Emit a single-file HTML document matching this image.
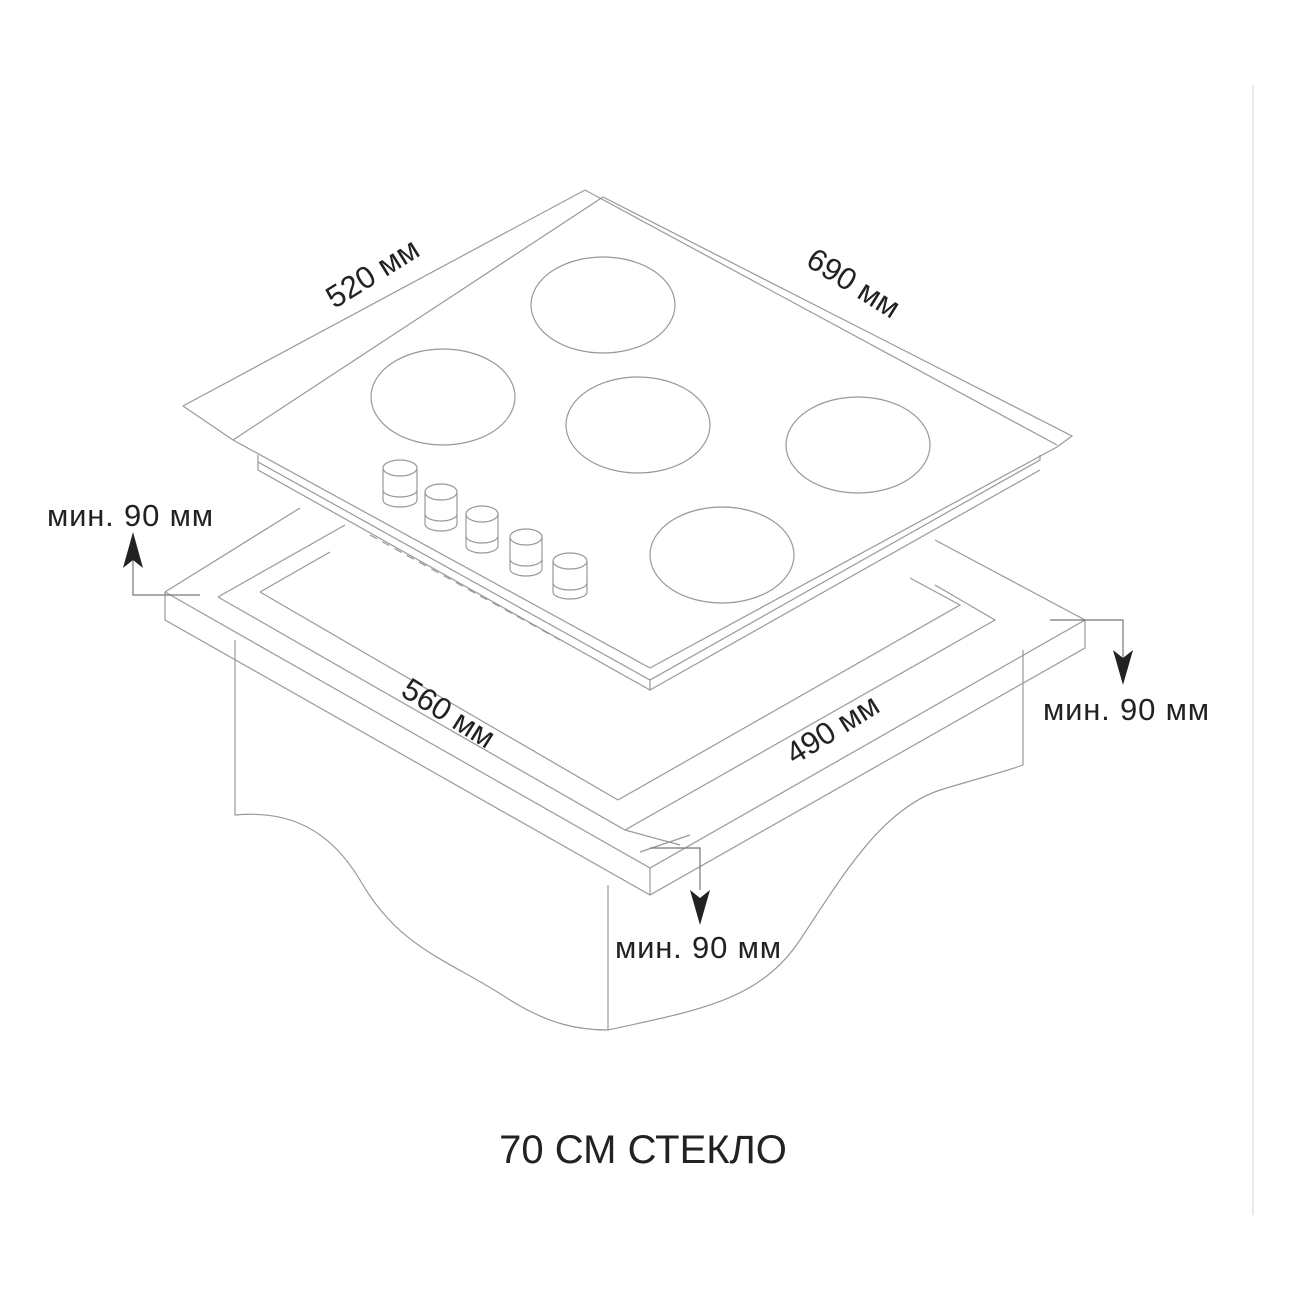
<!DOCTYPE html>
<html><head><style>
html,body{margin:0;padding:0;background:#fff;}
svg{display:block;}
text{font-family:"Liberation Sans",sans-serif;fill:#222;}
</style></head><body>
<svg width="1300" height="1300" viewBox="0 0 1300 1300" xmlns="http://www.w3.org/2000/svg">
<g fill="none" stroke="#999" stroke-width="1.2">
<line x1="1253" y1="85" x2="1253" y2="1215" stroke="#ddd"/>
<path d="M235,640 V815 C290,810 330,830 360,880 C400,950 450,960 510,1000 C550,1025 580,1030 608,1030 C700,1010 760,1000 800,940 C840,880 880,810 940,790 C990,775 1010,770 1023,765 V650"/>
<line x1="608" y1="885" x2="608" y2="1030"/>
<path d="M165,592 L650,868 L1085,620 L935,540"/>
<path d="M165,592 L300,508"/>
<path d="M165,592 V620 L650,895 L1085,648 V620"/>
<line x1="650" y1="868" x2="650" y2="895"/>
<path d="M218,597 L625,830 L995,620 L935,585"/>
<path d="M218,597 L345,525"/>
<path d="M260,592 L330,552"/>
<path d="M260,592 L618,800"/>
<path d="M618,800 L960,605 L910,578"/>
<path d="M625,830 L680,845"/>
<path d="M640,852 L690,835"/>
<path d="M183,406 L585,190 L1057,445"/>
<path d="M183,406 L233,440"/>
<path d="M603,197 L1072,436 L1057,447"/>
<path d="M603,197 L233,440"/>
<path d="M233,440 L650,668 L1057,447"/>
<path d="M258,455 V462 L650,680 L1040,460 V455"/>
<path d="M650,680 V690 L1040,470"/>
<path d="M258,462 V470 L650,690"/>
<path d="M370,535 L560,640" stroke-dasharray="8,6"/>
<ellipse cx="603" cy="305" rx="72" ry="48"/>
<ellipse cx="443" cy="397" rx="72" ry="48"/>
<ellipse cx="638" cy="425" rx="72" ry="48"/>
<ellipse cx="858" cy="445" rx="72" ry="48"/>
<ellipse cx="722" cy="555" rx="72" ry="48"/>
<g>
<path d="M383,468 V500 A17,7 0 0 0 417,500 V468"/><ellipse cx="400" cy="468" rx="17" ry="8"/><path d="M383,490 A17,7 0 0 0 417,490"/>
<path d="M425,492 V524 A16,7 0 0 0 457,524 V492"/><ellipse cx="441" cy="492" rx="16" ry="8"/><path d="M425,514 A16,7 0 0 0 457,514"/>
<path d="M466,514 V546 A16,7 0 0 0 498,546 V514"/><ellipse cx="482" cy="514" rx="16" ry="8"/><path d="M466,536 A16,7 0 0 0 498,536"/>
<path d="M510,537 V569 A16,7 0 0 0 542,569 V537"/><ellipse cx="526" cy="537" rx="16" ry="8"/><path d="M510,559 A16,7 0 0 0 542,559"/>
<path d="M553,561 V592 A17,7 0 0 0 587,592 V561"/><ellipse cx="570" cy="561" rx="17" ry="8"/><path d="M553,583 A17,7 0 0 0 587,583"/>
</g>
<path d="M133,560 V595 H200" stroke="#777"/>
<path d="M1050,620 H1123 V660" stroke="#777"/>
<path d="M650,848 H700 V890" stroke="#777"/>
</g>
<g fill="#222">
<polygon points="133,532 123,568 133,560 143,568"/>
<polygon points="1123,685 1113,650 1123,658 1133,650"/>
<polygon points="700,925 690,890 700,898 710,890"/>
</g>
<g font-size="31">
<text x="47" y="526" textLength="166">мин. 90 мм</text>
<text x="1043" y="720" textLength="166">мин. 90 мм</text>
<text x="615" y="958" textLength="166">мин. 90 мм</text>
<text transform="translate(378,282) rotate(-32)" text-anchor="middle">520 мм</text>
<text transform="translate(848,292) rotate(32)" text-anchor="middle">690 мм</text>
<text transform="translate(443,722) rotate(32)" text-anchor="middle">560 мм</text>
<text transform="translate(838,738) rotate(-32)" text-anchor="middle">490 мм</text>
</g>
<text x="643" y="1163" font-size="40" text-anchor="middle">70 СМ СТЕКЛО</text>
</svg>
</body></html>
